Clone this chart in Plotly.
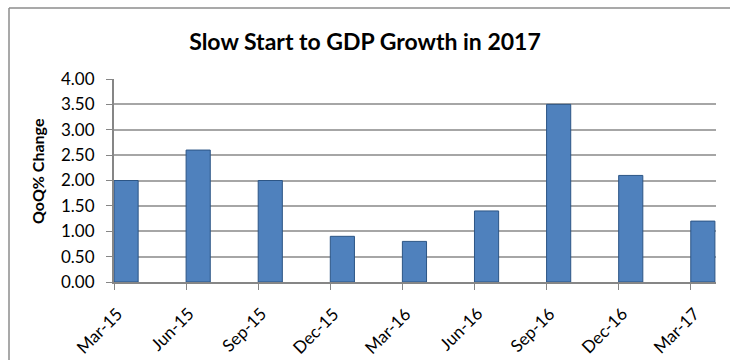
import plotly.graph_objects as go

quarters = ["Mar-15", "Jun-15", "Sep-15", "Dec-15", "Mar-16", "Jun-16", "Sep-16", "Dec-16", "Mar-17"]
qoq_change = [2.0, 2.6, 2.0, 0.9, 0.8, 1.4, 3.5, 2.1, 1.2]
y_ticks = [0, 0.5, 1.0, 1.5, 2.0, 2.5, 3.0, 3.5, 4.0]

positions = list(range(len(quarters)))
FONT = "Lato, Open Sans, sans-serif"
GRID = "#a6a6a6"
AXIS = "#868686"

L, R, T, B = 114, 14, 79, 78
W, H = 730, 360
pw, ph = W - L - R, H - T - B
xrange_ = [0, 8.35]
px_per_unit = pw / (xrange_[1] - xrange_[0])

fig = go.Figure(go.Bar(
    x=positions, y=qoq_change,
    width=0.335, offset=0,
    marker=dict(color="#4f81bd", line=dict(color="#2c5585", width=1)),
    hoverinfo="skip",
))

label_annots = [
    dict(text=q, x=p + 15 / px_per_unit, xref="x", y=-18 / ph, yref="paper",
         textangle=-45, xanchor="right", yanchor="top", showarrow=False,
         font=dict(size=17, family=FONT, color="black"))
    for p, q in zip(positions, quarters)
]

fig.update_layout(
    width=W, height=H,
    margin=dict(l=L, r=R, t=T, b=B),
    paper_bgcolor="white", plot_bgcolor="white",
    showlegend=False,
    font=dict(family=FONT, color="black"),
    title=dict(text="<b>Slow Start to GDP Growth in 2017</b>", x=0.5, xanchor="center",
               y=1 - 42 / H, yanchor="middle", font=dict(size=23, family=FONT)),
    xaxis=dict(range=xrange_, tickmode="array", tickvals=positions, showticklabels=False,
               ticks="outside", ticklen=6, tickcolor=AXIS,
               showline=True, linecolor=AXIS, linewidth=2, showgrid=False, zeroline=False),
    yaxis=dict(range=[0, 4.0], tickmode="array", tickvals=y_ticks,
               tickformat=".2f", ticks="outside", ticklen=6, tickcolor=AXIS,
               ticklabelstandoff=8,
               showline=True, linecolor=AXIS, linewidth=2,
               showgrid=True, gridcolor=GRID, gridwidth=1.5, zeroline=False,
               tickfont=dict(size=17, family=FONT)),
    annotations=[dict(text="<b>QoQ% Change</b>", textangle=-90, xref="paper", yref="paper",
                      x=(37 - L) / pw, y=1 - (171 - T) / ph, xanchor="center", yanchor="middle",
                      showarrow=False, font=dict(size=16, family=FONT))] + label_annots,
    shapes=[
        dict(type="line", xref="paper", yref="paper", x0=(9 - L) / pw, x1=(9 - L) / pw,
             y0=1 + (T - 8) / ph, y1=-B / ph, line=dict(color="#8c8c8c", width=1.5)),
        dict(type="line", xref="paper", yref="paper", x0=(9 - L) / pw, x1=1 + R / pw,
             y0=1 + (T - 8) / ph, y1=1 + (T - 8) / ph, line=dict(color="#8c8c8c", width=1.5)),
    ],
)

fig.write_html("out.html", config={"displayModeBar": False},
               post_script="document.body.style.margin='0';document.body.style.overflow='hidden';")
